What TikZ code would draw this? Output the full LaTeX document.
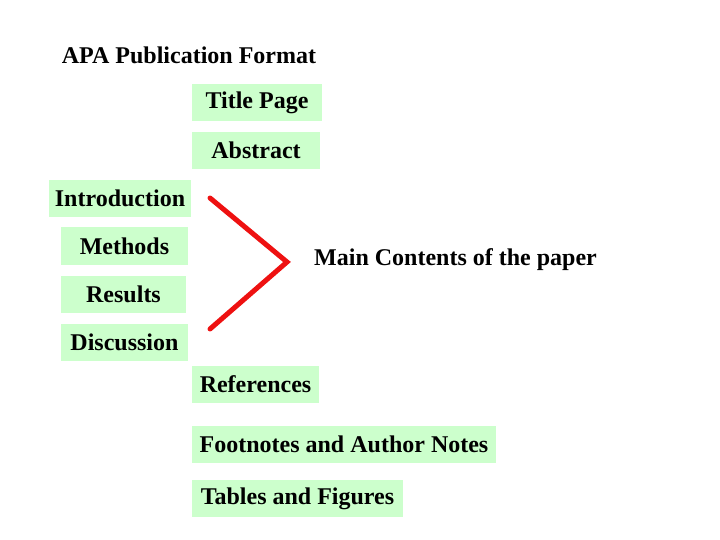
\documentclass[tikz,border=0pt]{standalone}
\usepackage{fontspec}
\setmainfont{Liberation Serif}
\definecolor{boxgreen}{HTML}{CCFFCC}
\definecolor{linered}{HTML}{EE1111}
\begin{document}
\begin{tikzpicture}[x=1pt,y=-1pt,
  lbl/.style={font=\fontsize{24}{28}\selectfont\bfseries, inner sep=0pt},
  gbox/.style={lbl, fill=boxgreen, anchor=center},
  redline/.style={draw=linered, line width=5pt, line cap=round, line join=miter}]
\useasboundingbox (0,0) rectangle (720,540);
\node[lbl] (title) at (189,55) {APA Publication Format};
\node[gbox, minimum width=130, minimum height=37] (tp) at (257,102.5) {Title Page};
\node[gbox, minimum width=128, minimum height=37] (ab) at (256,150.5) {Abstract};
\node[gbox, minimum width=142, minimum height=37] (intro) at (120,198.5) {Introduction};
\node[gbox, minimum width=127, minimum height=38] (meth) at (124.5,246) {Methods};
\node[gbox, minimum width=125, minimum height=37] (res) at (123.5,294.5) {Results};
\node[gbox, minimum width=127, minimum height=37] (disc) at (124.5,342.5) {Discussion};
\node[lbl, anchor=west] (main) at (314,260) {Main Contents of the paper};
\node[gbox, minimum width=127, minimum height=37] (ref) at (255.5,384.5) {References};
\node[gbox, minimum width=304, minimum height=37] (foot) at (344,444.5) {Footnotes and Author Notes};
\node[gbox, minimum width=211, minimum height=37] (tab) at (297.5,498.5) {Tables and Figures};
\coordinate (a) at (210,198);
\coordinate (tip) at (287,262);
\coordinate (b) at (210,329);
\draw[redline] (a) -- (tip) -- (b);
\end{tikzpicture}
\end{document}
